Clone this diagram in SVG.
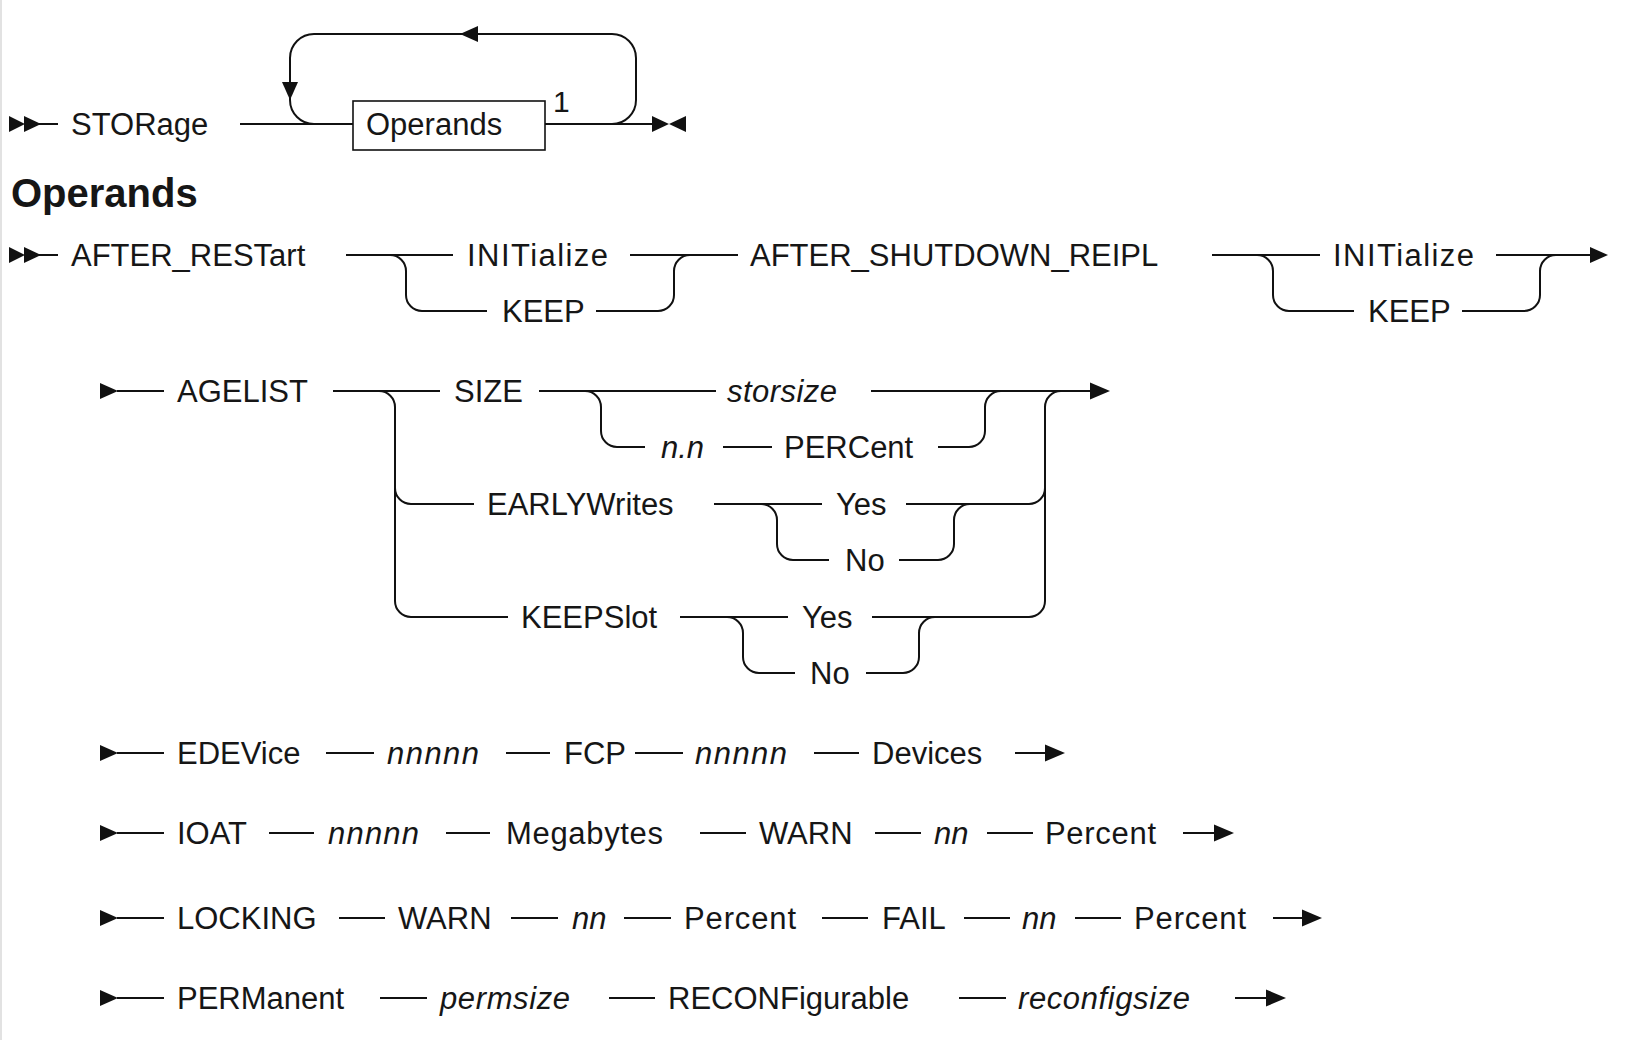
<svg xmlns="http://www.w3.org/2000/svg" width="1652" height="1040" viewBox="0 0 1652 1040">
<style>
text{font-family:"Liberation Sans",Arial,sans-serif;font-size:31px;fill:#161616}
.i{font-style:italic}
.h{font-weight:bold;font-size:40px}
.ln{fill:none;stroke:#111;stroke-width:2}
.ah{fill:#111;stroke:none}
.box{fill:#fff;stroke:#111;stroke-width:1.6}
</style>
<rect x="0" y="0" width="2" height="1040" fill="#e2e2e2"/>
<g id="connectors">
<!-- row 1 -->
<polygon class="ah" points="9,116 25,124 9,132"/>
<polygon class="ah" points="24,116 41,124 24,132"/>
<path class="ln" d="M39 124 H58"/>
<path class="ln" d="M240 124 H353"/>
<path class="ln" d="M545 124 H655"/>
<path class="ln" d="M314 124 A24 24 0 0 1 290 100 V58 A24 24 0 0 1 314 34 H612 A24 24 0 0 1 636 58 V100 A24 24 0 0 1 612 124"/>
<polygon class="ah" points="282,82 298,82 290,100"/>
<polygon class="ah" points="460,34 478,26 478,42"/>
<polygon class="ah" points="652,116 669,124 652,132"/>
<polygon class="ah" points="686,116 669,124 686,132"/>
<!-- row 2 -->
<polygon class="ah" points="9,247 25,255 9,263"/>
<polygon class="ah" points="24,247 41,255 24,263"/>
<path class="ln" d="M39 255 H58"/>
<path class="ln" d="M346 255 H453"/>
<path class="ln" d="M390 255 A16 16 0 0 1 406 271 V295 A16 16 0 0 0 422 311 H487"/>
<path class="ln" d="M596 311 H658 A16 16 0 0 0 674 295 V271 A16 16 0 0 1 690 255"/>
<path class="ln" d="M630 255 H738"/>
<path class="ln" d="M1212 255 H1320"/>
<path class="ln" d="M1257 255 A16 16 0 0 1 1273 271 V295 A16 16 0 0 0 1289 311 H1354"/>
<path class="ln" d="M1462 311 H1524 A16 16 0 0 0 1540 295 V271 A16 16 0 0 1 1556 255"/>
<path class="ln" d="M1496 255 H1592"/>
<polygon class="ah" points="1590,247 1608,255 1590,263"/>
<!-- row 3 -->
<polygon class="ah" points="100,383 118,391 100,399"/>
<path class="ln" d="M117 391 H164"/>
<path class="ln" d="M333 391 H440"/>
<path class="ln" d="M379 391 A16 16 0 0 1 395 407 V601 A16 16 0 0 0 411 617 H508"/>
<path class="ln" d="M395 488 A16 16 0 0 0 411 504 H474"/>
<path class="ln" d="M539 391 H716"/>
<path class="ln" d="M585 391 A16 16 0 0 1 601 407 V431 A16 16 0 0 0 617 447 H645"/>
<path class="ln" d="M723 447 H772"/>
<path class="ln" d="M938 447 H969 A16 16 0 0 0 985 431 V407 A16 16 0 0 1 1001 391"/>
<path class="ln" d="M871 391 H1092"/>
<polygon class="ah" points="1090,382.5 1110,391 1090,399.5"/>
<path class="ln" d="M872 617 H1029 A16 16 0 0 0 1045 601 V407 A16 16 0 0 1 1061 391"/>
<path class="ln" d="M906 504 H1029 A16 16 0 0 0 1045 488"/>
<path class="ln" d="M714 504 H822"/>
<path class="ln" d="M761 504 A16 16 0 0 1 777 520 V544 A16 16 0 0 0 793 560 H829"/>
<path class="ln" d="M899 560 H938 A16 16 0 0 0 954 544 V520 A16 16 0 0 1 970 504"/>
<path class="ln" d="M680 617 H788"/>
<path class="ln" d="M727 617 A16 16 0 0 1 743 633 V657 A16 16 0 0 0 759 673 H795"/>
<path class="ln" d="M866 673 H903 A16 16 0 0 0 919 657 V633 A16 16 0 0 1 935 617"/>
<!-- row EDEVice -->
<polygon class="ah" points="100,745 118,753 100,761"/>
<path class="ln" d="M117 753 H164 M326 753 H374 M506 753 H550 M635 753 H683 M814 753 H859 M1015 753 H1047"/>
<polygon class="ah" points="1045,744.5 1065,753 1045,761.5"/>
<!-- row IOAT -->
<polygon class="ah" points="100,825 118,833 100,841"/>
<path class="ln" d="M117 833 H164 M269 833 H314 M446 833 H490 M700 833 H746 M875 833 H921 M987 833 H1033 M1183 833 H1216"/>
<polygon class="ah" points="1214,824.5 1234,833 1214,841.5"/>
<!-- row LOCKING -->
<polygon class="ah" points="100,910 118,918 100,926"/>
<path class="ln" d="M117 918 H164 M339 918 H385 M511 918 H558 M624 918 H671 M822 918 H868 M964 918 H1010 M1075 918 H1121 M1273 918 H1304"/>
<polygon class="ah" points="1302,909.5 1322,918 1302,926.5"/>
<!-- row PERManent -->
<polygon class="ah" points="100,990 118,998 100,1006"/>
<path class="ln" d="M117 998 H164 M380 998 H427 M609 998 H655 M959 998 H1006 M1235 998 H1268"/>
<polygon class="ah" points="1266,989.5 1286,998 1266,1006.5"/>
</g>
<g id="n-storage"><text x="71" y="135">STORage</text></g>
<g id="n-operands-box"><rect class="box" x="353" y="101" width="192" height="49"/><text x="366" y="135">Operands</text></g>
<g id="n-note1"><text x="553" y="112" style="font-size:30px">1</text></g>
<g id="n-heading"><text class="h" x="11" y="207">Operands</text></g>
<g id="n-after-restart"><text x="71" y="266">AFTER_RESTart</text></g>
<g id="n-init1"><text x="467" y="266" textLength="141">INITialize</text></g>
<g id="n-keep1"><text x="502" y="322">KEEP</text></g>
<g id="n-after-shutdown"><text x="750" y="266">AFTER_SHUTDOWN_REIPL</text></g>
<g id="n-init2"><text x="1333" y="266" textLength="141">INITialize</text></g>
<g id="n-keep2"><text x="1368" y="322">KEEP</text></g>
<g id="n-agelist"><text x="177" y="402">AGELIST</text></g>
<g id="n-size"><text x="454" y="402">SIZE</text></g>
<g id="n-storsize"><text class="i" x="727" y="402" textLength="110">storsize</text></g>
<g id="n-nn"><text class="i" x="661" y="458">n.n</text></g>
<g id="n-percent-size"><text x="784" y="458">PERCent</text></g>
<g id="n-earlywrites"><text x="487" y="515">EARLYWrites</text></g>
<g id="n-ew-yes"><text x="836" y="515">Yes</text></g>
<g id="n-ew-no"><text x="845" y="571">No</text></g>
<g id="n-keepslot"><text x="521" y="628">KEEPSlot</text></g>
<g id="n-ks-yes"><text x="802" y="628">Yes</text></g>
<g id="n-ks-no"><text x="810" y="684">No</text></g>
<g id="n-edevice"><text x="177" y="764">EDEVice</text><text class="i" x="387" y="764" textLength="92">nnnnn</text><text x="564" y="764">FCP</text><text class="i" x="695" y="764" textLength="92">nnnnn</text><text x="872" y="764">Devices</text></g>
<g id="n-ioat"><text x="177" y="844">IOAT</text><text class="i" x="328" y="844" textLength="91">nnnnn</text><text x="506" y="844" textLength="157">Megabytes</text><text x="759" y="844">WARN</text><text class="i" x="934" y="844">nn</text><text x="1045" y="844" textLength="111">Percent</text></g>
<g id="n-locking"><text x="177" y="929">LOCKING</text><text x="398" y="929">WARN</text><text class="i" x="572" y="929">nn</text><text x="684" y="929" textLength="112">Percent</text><text x="882" y="929">FAIL</text><text class="i" x="1022" y="929">nn</text><text x="1134" y="929" textLength="112">Percent</text></g>
<g id="n-permanent"><text x="177" y="1009">PERManent</text><text class="i" x="440" y="1009" textLength="130">permsize</text><text x="668" y="1009">RECONFigurable</text><text class="i" x="1018" y="1009" textLength="172">reconfigsize</text></g>
</svg>
